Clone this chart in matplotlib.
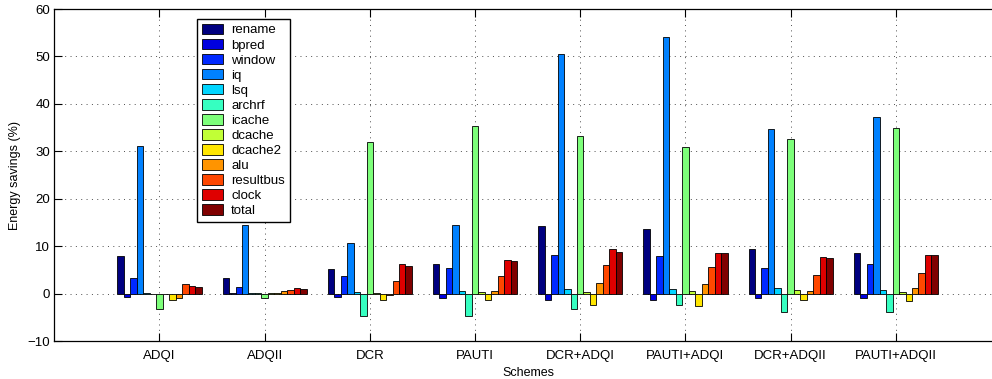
import numpy as np
import matplotlib
matplotlib.use('Agg')
import matplotlib.pyplot as plt

plt.rcParams['font.family'] = ['Liberation Sans', 'DejaVu Sans']

schemes = ['ADQI', 'ADQII', 'DCR', 'PAUTI', 'DCR+ADQI', 'PAUTI+ADQI', 'DCR+ADQII', 'PAUTI+ADQII']
units = ['rename', 'bpred', 'window', 'iq', 'lsq', 'archrf', 'icache', 'dcache',
         'dcache2', 'alu', 'resultbus', 'clock', 'total']

# savings (%) per scheme, one list per unit in the order above
rename    = [7.9, 3.4, 5.2, 6.2, 14.2, 13.6, 9.4, 8.6]
bpred     = [-0.6, 0.1, -0.6, -0.8, -1.3, -1.4, -0.8, -0.8]
window    = [3.3, 1.4, 3.7, 5.5, 8.1, 7.9, 5.5, 6.2]
iq        = [31.2, 14.6, 10.8, 14.5, 50.5, 54.0, 34.7, 37.3]
lsq       = [0.1, 0.2, 0.3, 0.7, 1.1, 1.0, 1.3, 0.9]
archrf    = [0.05, 0.1, -4.7, -4.7, -3.1, -2.4, -3.9, -3.9]
icache    = [-3.1, -0.8, 32.0, 35.3, 33.2, 31.0, 32.7, 35.0]
dcache    = [0.05, 0.2, 0.1, 0.3, 0.3, 0.5, 0.8, 0.4]
dcache2   = [-1.3, 0.1, -1.2, -1.4, -2.4, -2.6, -1.2, -1.5]
alu       = [-0.8, 0.7, -0.3, 0.7, 2.2, 2.0, 0.7, 1.2]
resultbus = [2.0, 0.9, 2.6, 3.7, 6.0, 5.7, 3.9, 4.3]
clock     = [1.6, 1.2, 6.2, 7.2, 9.4, 8.7, 7.8, 8.2]
total     = [1.5, 1.0, 5.8, 7.0, 8.9, 8.5, 7.6, 8.1]

series = [rename, bpred, window, iq, lsq, archrf, icache, dcache,
          dcache2, alu, resultbus, clock, total]

fig = plt.figure(figsize=(9.92, 3.79), dpi=100)
ax = fig.add_axes([54.3 / 992, 1 - 341.3 / 379, (1001 - 54.3) / 992, (341.3 - 9) / 379])

colors = plt.cm.jet(np.linspace(0, 1, len(units)))
x = np.arange(1, len(schemes) + 1)
w = 0.8 / len(units)
for k, (name, vals) in enumerate(zip(units, series)):
    off = (k - (len(units) - 1) / 2) * w
    ax.bar(x + off, vals, w, color=colors[k], edgecolor='black', linewidth=0.6,
           label=name, zorder=2)

ax.set_xlim(0, 9)
ax.set_ylim(-10, 60)
ax.set_xticks(x)
ax.set_xticklabels(schemes, fontsize=9.5)
ax.set_yticks(np.arange(-10, 61, 10))
ax.tick_params(axis='both', direction='in', length=6, width=0.8, labelsize=9.5,
               top=True, right=True)
ax.tick_params(axis='x', pad=6)
ax.tick_params(axis='y', pad=3)
ax.grid(True, linestyle=(0, (1, 4.5)), color='0.3', linewidth=0.7)
ax.set_axisbelow(True)
for s in ax.spines.values():
    s.set_linewidth(0.9)

ax.set_ylabel('Energy savings (%)', fontsize=9)
ax.set_xlabel('Schemes', fontsize=9, labelpad=2)
ax.xaxis.set_label_coords((528 - 54.3) / (1001 - 54.3), -0.078)
ax.yaxis.set_label_coords(-0.035, 0.5)

leg = ax.legend(loc='upper left', bbox_to_anchor=((197 - 54.3) / (1001 - 54.3), 1 - (19 - 9) / 332.3),
                fontsize=9.5, frameon=True, fancybox=False, framealpha=1,
                handlelength=1.65, handleheight=0.85, handletextpad=0.6,
                labelspacing=0.17, borderpad=0.35, borderaxespad=0)
leg.get_frame().set_edgecolor('black')
leg.get_frame().set_linewidth(1.0)

fig.savefig('out.png', dpi=100)
